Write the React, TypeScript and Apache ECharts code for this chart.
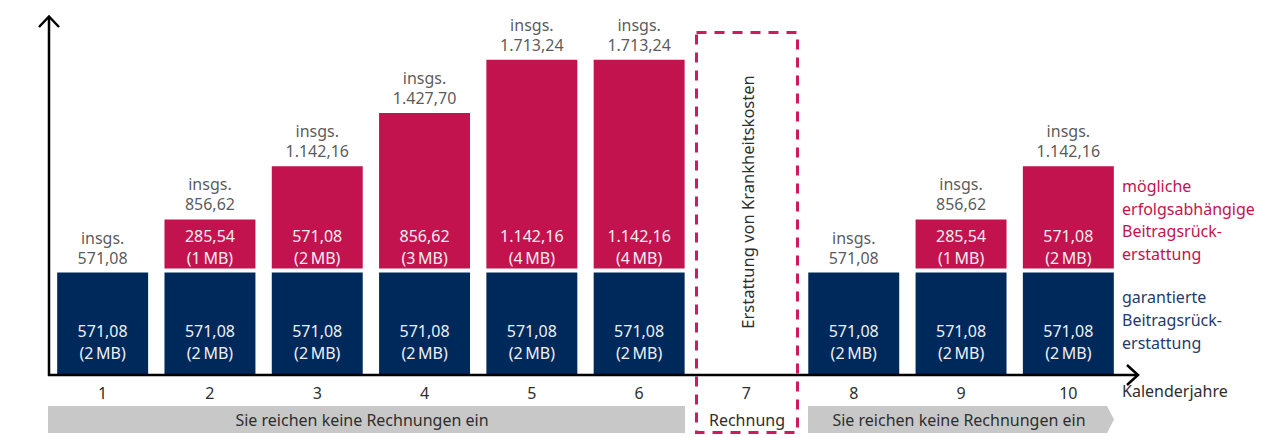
import { useEffect, useRef } from "react";
import * as echarts from "echarts";

const categories = ["1", "2", "3", "4", "5", "6", "7", "8", "9", "10"];
const guaranteed = [571.08, 571.08, 571.08, 571.08, 571.08, 571.08, null, 571.08, 571.08, 571.08];
const guaranteedMB = [2, 2, 2, 2, 2, 2, null, 2, 2, 2];
const possible = [null, 285.54, 571.08, 856.62, 1142.16, 1142.16, null, null, 285.54, 571.08];
const possibleMB = [null, 1, 2, 3, 4, 4, null, null, 1, 2];
const totals = [571.08, 856.62, 1142.16, 1427.7, 1713.24, 1713.24, null, 571.08, 856.62, 1142.16];

const legendPossible = ["mögliche", "erfolgsabhängige", "Beitragsrück-", "erstattung"];
const legendGuaranteed = ["garantierte", "Beitragsrück-", "erstattung"];
const bannerText = "Sie reichen keine Rechnungen ein";
const claimText = "Rechnung";
const claimVertical = "Erstattung von Krankheitskosten";
const xAxisName = "Kalenderjahre";

const BLUE = "#00295b";
const PINK = "#c2134f";
const DASH = "#d01a5f";
const GRAY = "#c8c8c8";
const TEXT = "#2e2e2e";
const FONT = "Noto Sans";

function fmt(v: number): string {
  const [i, d] = v.toFixed(2).split(".");
  const withDots = i.replace(/\B(?=(\d{3})+(?!\d))/g, ".");
  return `${withDots},${d}`;
}

export default function App() {
  const ref = useRef<HTMLDivElement>(null);

  useEffect(() => {
    if (!ref.current) return;
    const chart = echarts.init(ref.current, undefined, { renderer: "svg" });

    const graphics: any[] = [
      // y axis
      { type: "line", shape: { x1: 49, y1: 17, x2: 49, y2: 376 }, style: { stroke: "#000", lineWidth: 2.5 }, z: 10 },
      { type: "polyline", shape: { points: [[39, 27], [49, 16.5], [59, 27]] }, style: { stroke: "#000", lineWidth: 2.5, fill: null }, z: 10 },
      // x axis
      { type: "line", shape: { x1: 48, y1: 375, x2: 1137, y2: 375 }, style: { stroke: "#000", lineWidth: 2.5 }, z: 10 },
      { type: "polyline", shape: { points: [[1127, 365], [1138, 375], [1127, 385]] }, style: { stroke: "#000", lineWidth: 2.5, fill: null }, z: 10 },
      {
        type: "text", left: 1122, top: 383,
        style: { text: xAxisName, fill: TEXT, font: `16px "${FONT}"` },
      },
      // banners
      { type: "rect", shape: { x: 48, y: 406, width: 637, height: 27 }, style: { fill: GRAY }, z: 1 },
      {
        type: "polygon",
        shape: { points: [[808, 406], [1107, 406], [1114, 419.5], [1107, 433], [808, 433]] },
        style: { fill: GRAY }, z: 1,
      },
      {
        type: "text", x: 362, y: 420,
        style: { text: bannerText, fill: TEXT, font: `16px "${FONT}"`, align: "center", verticalAlign: "middle" }, z: 2,
      },
      {
        type: "text", x: 959, y: 420,
        style: { text: bannerText, fill: TEXT, font: `16px "${FONT}"`, align: "center", verticalAlign: "middle" }, z: 2,
      },
      {
        type: "text", x: 747, y: 420,
        style: { text: claimText, fill: TEXT, font: `16px "${FONT}"`, align: "center", verticalAlign: "middle" }, z: 2,
      },
      // dashed box
      {
        type: "rect", shape: { x: 696.5, y: 32.5, width: 101, height: 400 },
        style: { fill: null, stroke: DASH, lineWidth: 3, lineDash: [10, 8] }, z: 5,
      },
      {
        type: "text", x: 747, y: 202, rotation: Math.PI / 2,
        style: { text: claimVertical, fill: TEXT, font: `16.5px "${FONT}"`, align: "center", verticalAlign: "middle" }, z: 5,
      },
      // legend texts
      ...legendPossible.map((t, i) => ({
        type: "text", x: 1122, y: 186 + i * 22.7,
        style: { text: t, fill: PINK, font: `16px "${FONT}"`, verticalAlign: "middle" },
      })),
      ...legendGuaranteed.map((t, i) => ({
        type: "text", x: 1122, y: 297 + i * 23,
        style: { text: t, fill: "#1f3b6b", font: `16px "${FONT}"`, verticalAlign: "middle" },
      })),
    ];

    chart.setOption({
      animation: false,
      textStyle: { fontFamily: FONT },
      grid: { left: 49, right: 160, top: 23, bottom: 60, containLabel: false },
      xAxis: {
        type: "category",
        data: categories,
        axisLine: { show: false },
        axisTick: { show: false },
        axisLabel: { color: TEXT, fontSize: 16, margin: 8, fontFamily: FONT },
      },
      yAxis: {
        type: "value",
        min: 0,
        max: 1900,
        axisLine: { show: false },
        axisTick: { show: false },
        axisLabel: { show: false },
        splitLine: { show: false },
      },
      series: [
        {
          name: "garantierte Beitragsrückerstattung",
          type: "bar",
          stack: "a",
          barWidth: "88.5%",
          data: guaranteed,
          itemStyle: { color: BLUE, borderColor: "#fff", borderWidth: 2 },
          label: {
            show: true,
            position: "insideBottom",
            distance: 13,
            color: "#eef0f5",
            fontSize: 16,
            lineHeight: 22,
            fontFamily: FONT,
            formatter: (p: any) => `${fmt(p.value)}\n(${guaranteedMB[p.dataIndex]}\u2009MB)`,
          },
        },
        {
          name: "mögliche erfolgsabhängige Beitragsrückerstattung",
          type: "bar",
          stack: "a",
          barWidth: "88.5%",
          data: possible,
          itemStyle: { color: PINK, borderColor: "#fff", borderWidth: 2 },
          label: {
            show: true,
            position: "insideBottom",
            distance: 2,
            color: "#f5eef1",
            fontSize: 16,
            lineHeight: 22,
            fontFamily: FONT,
            formatter: (p: any) => `${fmt(p.value)}\n(${possibleMB[p.dataIndex]}\u2009MB)`,
          },
        },
        {
          name: "insgs.",
          type: "scatter",
          data: totals,
          symbolSize: 0,
          silent: true,
          itemStyle: { color: "transparent" },
          label: {
            show: true,
            position: "top",
            distance: 3,
            color: TEXT,
            fontSize: 16,
            lineHeight: 20,
            fontFamily: FONT,
            formatter: (p: any) => `insgs.\n${fmt(p.value)}`,
          },
        },
      ],
      graphic: graphics,
    });

    return () => chart.dispose();
  }, []);

  return <div ref={ref} style={{ width: 1282, height: 437, position: "absolute", left: 0, top: 0 }} />;
}
